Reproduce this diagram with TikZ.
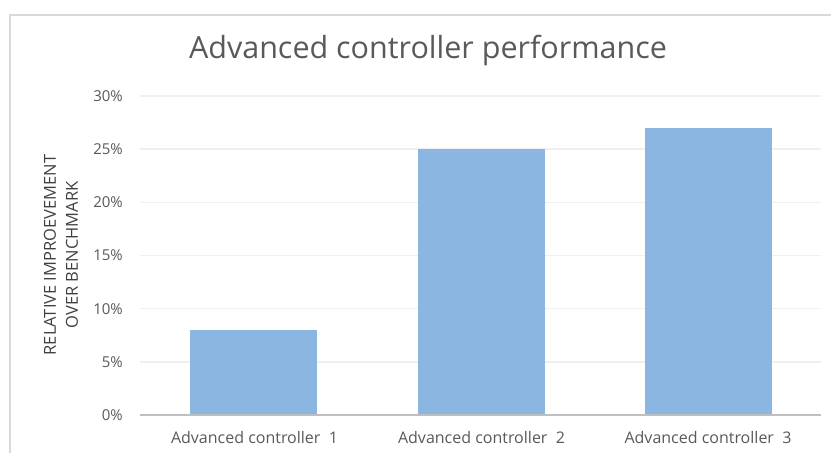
\documentclass[tikz,border=0pt]{standalone}
\usepackage{fontspec}
\setmainfont{Open Sans}
\definecolor{barblue}{HTML}{8AB6E1}
\definecolor{gridgray}{HTML}{EFEFEF}
\definecolor{axisgray}{HTML}{BFBFBF}
\definecolor{framegray}{HTML}{D9D9D9}
\definecolor{textgray}{HTML}{595959}
\definecolor{labelgray}{HTML}{404040}

\begin{document}
\begin{tikzpicture}[x=1pt,y=-1pt,
bar/.style={fill=barblue,draw=none,minimum width=127pt,inner sep=0,anchor=south},
tick/.style={font=\fontsize{15}{17}\selectfont,text=textgray,anchor=east,inner sep=0},
cat/.style={font=\fontsize{16}{18}\selectfont,text=textgray,anchor=center,inner sep=0},
grid line/.style={draw=gridgray,line width=1.5pt}]
\useasboundingbox (0,0) rectangle (831,453);
\draw[framegray,line width=2pt] (10,460) -- (10,15) -- (840,15);
\node[font=\fontsize{30.5}{34}\selectfont,text=textgray] (T) at (428,50) {Advanced controller performance};
\foreach \v in {5,10,...,30}
\draw[grid line] (140,{415-\v*10.633}) -- (821,{415-\v*10.633});
\foreach \v in {0,5,...,30}
\node[tick] (Y\v) at (123,{415-\v*10.633}) {\v\%};
\node[bar,minimum height=85.1pt] (B1) at (253.5,415) {};
\node[bar,minimum height=265.8pt] (B2) at (481.5,415) {};
\node[bar,minimum height=287.1pt] (B3) at (708,415) {};
\draw[axisgray,line width=2pt] (140,415) -- (821,415);
\node[cat] (L1) at (254.5,437) {Advanced\ controller\ \ 1};
\node[cat] (L2) at (481.5,437) {Advanced\ controller\ \ 2};
\node[cat] (L3) at (708,437) {Advanced\ controller\ \ 3};
\node[rotate=90,align=center,text=labelgray,font=\fontsize{16.5}{22}\selectfont] (A) at (61,255) {RELATIVE IMPROEVEMENT\\OVER BENCHMARK};
\end{tikzpicture}
\end{document}
